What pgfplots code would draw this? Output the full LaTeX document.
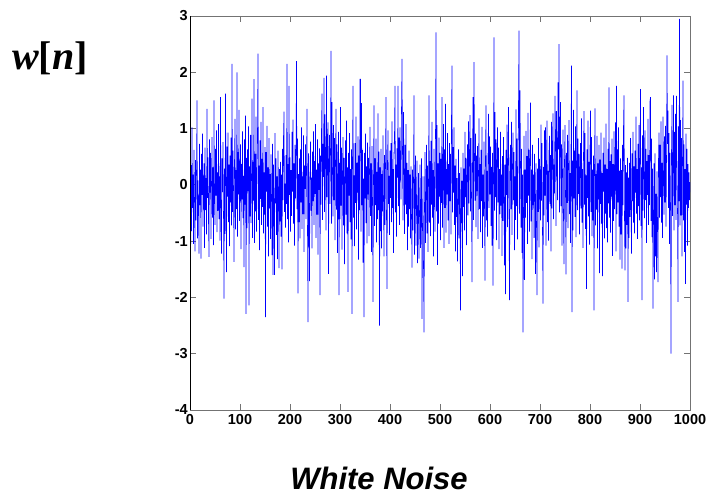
\documentclass[border=0pt]{standalone}
\usepackage{pgfplots}
\pgfplotsset{compat=1.18}
\usepackage{pgfplotstable}
\usepackage{fontspec}
\setmainfont{Liberation Sans}
\newfontfamily\timesfont{Liberation Serif}

% w[n], one sample per line (n = 1..1000)
\pgfplotstableread[header=false]{
-2.17
0.35
-0.82
1.02
-0.41
0.18
-1.05
0.62
-0.27
-1.18
0.44
-0.63
0.21
1.50
-0.95
0.08
-0.52
-1.22
0.73
-0.36
0.27
-1.31
0.55
-0.18
0.91
-0.74
-0.09
0.38
-1.12
0.66
-0.45
0.12
-0.88
1.35
-0.23
0.49
-0.67
-1.28
0.81
-0.14
0.57
-0.96
0.03
0.85
-0.58
0.31
-1.07
1.50
-0.32
-0.71
0.64
-0.19
0.97
-0.84
0.22
-0.46
1.08
-0.61
0.15
-0.99
1.56
-0.38
-1.22
0.47
-0.13
0.76
-0.54
-2.02
0.29
-0.87
1.62
0.05
-1.55
0.68
-0.21
0.93
-0.66
0.36
-1.09
0.52
-0.31
0.84
-0.72
2.15
-0.48
0.61
-0.05
-1.37
0.42
1.17
-0.79
0.26
-0.43
2.00
-0.92
0.58
-0.17
1.33
-0.64
0.09
0.72
-1.14
0.37
-0.26
0.95
-0.59
0.16
-1.46
0.81
-0.35
1.23
-2.29
0.48
-0.77
0.63
-0.11
1.04
-2.14
0.33
-0.56
0.89
-0.68
0.12
1.53
-0.94
0.41
-0.28
1.88
-1.03
0.55
-0.47
1.21
-0.83
0.07
0.96
2.33
-0.62
0.34
-1.16
0.79
-0.25
1.12
-0.71
0.46
-0.39
1.38
-0.86
0.22
-0.53
0.67
-2.35
0.58
-0.12
1.05
-0.74
0.31
-1.27
0.83
-0.42
0.19
-0.96
0.54
-0.21
-1.25
0.73
-1.60
0.36
-0.58
-1.60
0.92
-0.33
0.47
-0.89
0.15
-1.32
0.61
-0.07
-1.48
0.28
-0.65
0.41
-0.92
0.18
-1.50
0.64
-0.27
0.86
1.30
-0.48
0.02
-0.76
0.53
-0.34
2.15
-0.61
0.37
-1.02
1.76
-0.18
0.49
-0.83
0.26
-0.55
0.94
-0.12
1.16
-0.69
0.38
-1.08
0.71
-0.24
0.57
2.20
-0.43
0.82
-1.93
0.19
-0.66
0.47
-0.95
0.63
-0.31
1.02
-0.78
0.15
-0.52
0.88
-1.19
0.34
-0.07
0.72
-0.61
0.29
1.35
-0.85
-2.44
0.56
-0.38
-1.71
0.21
0.77
-0.46
0.13
-1.13
0.59
-0.29
0.95
-0.71
0.42
-0.16
1.08
-0.94
0.27
-0.53
0.81
-1.24
0.38
-0.09
0.65
-1.96
0.52
-0.35
0.98
1.62
-0.62
0.73
0.14
1.90
-0.48
1.25
0.36
-0.81
1.94
-0.22
0.67
1.11
-1.58
0.45
0.89
-0.34
0.58
2.38
-0.69
1.47
0.21
-0.56
1.06
-0.27
0.83
-0.98
0.41
1.35
-0.44
0.72
-1.21
0.17
0.94
-1.96
0.39
-0.61
1.38
-0.37
0.66
-1.15
0.23
0.85
-0.72
0.48
-1.41
0.12
0.79
-0.53
1.14
-0.86
0.31
-1.90
0.57
-0.19
0.92
-0.66
0.28
-0.97
0.63
-2.29
0.45
1.76
-0.58
0.17
-1.09
0.74
-0.32
1.21
-0.79
0.39
-0.14
0.86
-1.33
0.52
-0.45
1.88
1.88
-0.83
1.45
-0.36
0.62
-1.38
0.11
-2.35
0.57
-0.24
0.91
-0.68
0.33
-1.04
0.75
-0.17
0.48
-0.91
0.26
1.03
-0.55
0.38
-1.19
0.69
-0.28
-2.08
0.14
1.41
-0.73
0.47
-0.36
0.82
-1.02
0.23
-0.61
1.27
-0.45
0.59
-2.50
0.31
-0.82
0.64
-1.13
0.19
-0.47
0.88
-0.26
-1.27
0.53
-0.71
0.35
1.56
-0.58
-1.85
0.42
0.97
-0.34
0.16
-0.89
0.61
-0.23
0.74
-0.66
1.13
-0.41
0.28
-1.21
0.57
0.92
1.76
-0.49
0.36
-0.92
0.65
0.13
1.76
-0.38
0.84
-0.71
1.02
0.47
-0.26
1.36
2.24
0.58
-0.63
1.29
0.22
-0.87
0.71
-0.35
1.08
-0.52
0.39
-1.16
0.26
-0.74
0.61
-0.43
0.18
-0.95
0.33
-0.58
-1.47
0.27
-0.81
0.09
1.59
-1.24
-0.37
0.52
-1.08
-0.19
0.43
-1.39
-0.64
0.21
-1.31
-0.52
0.36
-1.12
-0.28
0.47
-2.38
-0.71
0.15
-1.45
-2.62
-0.34
0.58
-1.03
-0.22
0.71
-0.86
0.34
-1.19
0.05
1.59
-0.67
0.42
-0.91
0.78
-0.35
1.12
-0.58
0.26
-1.27
0.64
0.11
-0.83
0.93
2.71
-0.47
1.06
-1.42
0.38
-0.69
0.84
-0.21
0.57
-0.98
0.46
-0.32
1.56
-0.76
0.19
1.08
-1.12
0.63
-0.41
1.44
-0.85
0.28
-0.17
0.92
-0.63
0.37
-1.05
0.74
-0.29
0.55
-0.88
1.21
2.12
-0.49
0.67
-0.14
1.02
-0.71
0.34
-1.18
0.46
-0.57
0.12
-1.36
-0.28
0.63
-0.95
0.21
-0.46
-2.23
0.31
-0.68
0.07
-1.62
0.57
-0.39
0.29
-0.81
0.94
-0.22
0.48
-1.07
0.16
0.72
-0.54
1.13
-0.33
0.61
1.24
-0.47
0.83
-0.19
-1.73
0.36
1.56
-0.62
2.18
0.45
-0.28
0.91
-0.75
0.52
-0.11
0.69
-0.96
0.23
1.18
-0.43
0.37
-0.84
0.62
-0.29
1.03
-1.12
0.18
-0.56
0.77
-0.38
-1.70
0.49
1.41
-0.63
0.25
-0.92
0.54
1.26
-0.41
0.86
-0.17
0.68
-0.73
0.32
-1.08
0.57
-1.79
0.14
2.62
-0.46
1.29
-0.22
0.81
-0.98
0.43
1.02
-0.31
0.66
-1.14
0.28
-0.52
0.94
-0.37
0.18
-1.26
0.51
-0.64
0.85
-0.29
-1.43
0.36
-1.94
0.62
-0.18
1.07
-0.75
0.44
1.38
-0.56
-2.05
0.23
0.71
-0.43
1.12
-0.89
0.36
0.93
-0.27
0.58
-1.16
0.15
-0.62
1.34
-0.38
0.82
-0.97
0.29
1.46
2.74
-0.51
1.68
0.33
-0.76
0.64
-1.21
0.18
-2.62
-0.44
0.87
-1.69
0.27
-0.58
0.96
-0.32
0.51
-1.05
1.28
-0.19
0.62
-0.83
0.44
1.46
-0.65
0.27
-1.32
0.71
-0.36
0.18
-0.94
0.55
-0.21
-1.58
0.38
-0.72
-1.96
0.29
-0.48
0.83
-1.11
0.46
0.16
-0.63
1.07
-0.28
0.74
-0.86
-2.11
0.32
-0.54
0.97
-0.19
1.02
-1.08
0.41
1.14
-0.66
0.25
-0.99
0.61
0.87
-0.34
0.53
-1.18
1.12
-0.42
0.77
1.27
-0.61
0.36
-0.15
1.58
0.94
-0.73
1.31
0.48
-0.27
1.82
0.63
2.50
-0.49
0.91
1.47
-0.38
0.72
-1.08
0.26
0.98
-0.62
-1.41
0.44
1.06
-0.18
-1.59
0.57
-0.32
0.89
-0.77
0.36
1.15
-0.52
0.21
-1.03
0.68
2.12
-2.26
0.43
-0.81
1.33
-0.24
0.61
-0.57
1.04
-0.93
0.39
1.68
-0.45
0.82
-0.16
0.55
-0.88
0.31
0.74
-0.42
1.18
-0.67
0.28
-1.12
0.56
1.31
-0.35
0.92
-0.78
0.17
-1.85
0.63
-0.23
1.14
-0.56
0.41
-1.06
0.69
1.32
-0.48
0.85
-0.91
0.27
-0.63
0.52
-2.23
0.34
1.36
-0.72
0.19
-0.44
0.87
-1.13
0.38
-0.26
0.71
-1.57
0.45
-0.34
0.93
-0.69
0.21
-1.62
0.57
-0.12
0.84
-0.95
0.36
-0.51
1.09
-0.77
0.28
-1.02
0.64
-0.33
1.73
-0.58
0.42
-0.85
0.54
-0.21
0.82
-1.26
0.37
-0.64
0.95
-0.43
0.18
1.11
-1.18
1.76
-0.52
0.63
-0.31
1.02
-0.74
0.25
-1.33
0.47
-0.88
0.26
-1.49
0.71
-0.36
1.04
1.59
-0.62
-1.52
0.35
-1.13
0.22
-0.71
0.48
-2.08
0.13
-0.94
0.39
-0.57
0.83
-0.42
-1.22
0.56
-0.29
0.94
-0.67
0.33
-0.86
0.61
-0.14
1.21
-0.51
0.28
-0.96
0.73
-0.38
1.06
-0.63
0.44
1.70
-0.73
0.31
-2.05
0.88
-0.46
1.38
0.12
-0.59
0.97
-0.27
0.64
-1.03
0.42
-0.18
1.17
-0.71
0.53
-0.36
1.49
1.56
-0.64
0.82
-0.93
0.29
-2.20
-0.47
0.38
-1.68
0.56
-1.27
-0.16
-1.55
0.24
-0.81
-1.73
0.46
0.93
-0.58
0.71
-0.22
1.13
-0.67
0.39
-0.94
1.21
0.18
-0.53
0.86
-0.31
1.05
-0.74
0.48
2.30
0.73
1.32
-0.41
0.92
-1.05
0.57
-0.38
-3.00
0.61
1.42
-0.55
0.27
1.59
-0.81
0.94
-0.36
1.26
-0.62
1.58
0.33
-0.47
-2.08
1.04
-0.29
2.95
-0.72
1.15
-0.54
0.83
-1.27
0.46
1.85
-0.63
0.72
-1.19
0.28
-1.76
0.91
-0.35
0.64
-1.08
0.37
-0.41
0.22
-0.27
0.05
}\noise

\begin{document}
\begin{tikzpicture}[x=1pt,y=1pt]
\path[use as bounding box] (0,0) rectangle (706,495);
\begin{axis}[
  at={(190pt,85pt)}, anchor=south west,
  scale only axis, width=500pt, height=394pt,
  xmin=0, xmax=1000, ymin=-4, ymax=3,
  xtick={0,100,...,1000}, ytick={-4,-3,...,3},
  tick align=inside, major tick length=6pt,
  axis line style={draw=black!55, line width=0.9pt},
  tick style={draw=black!55, line width=0.9pt},
  ticklabel style={font=\fontsize{14.5}{14.5}\selectfont\bfseries},
  /pgf/number format/assume math mode=true,
  /pgf/number format/1000 sep={},
  scaled ticks=false,
  xticklabel style={inner sep=1pt, yshift=-3pt},
  yticklabel style={inner sep=1pt, xshift=-1pt},
]
\addplot[color={rgb,255:red,0;green,0;blue,255}, line width=0.55pt]
  table[x expr=\coordindex+1, y index=0] {\noise};
\draw[black, line width=0.9pt] (rel axis cs:0,0) -- (rel axis cs:0,1);
\end{axis}
\node[font=\timesfont\fontsize{40}{40}\selectfont\bfseries] at (50,437) {\textit{w}[\textit{n}]};
\node[anchor=base, font=\fontsize{31}{31}\selectfont\bfseries\itshape] at (379,6) {White Noise};
\end{tikzpicture}
\end{document}
